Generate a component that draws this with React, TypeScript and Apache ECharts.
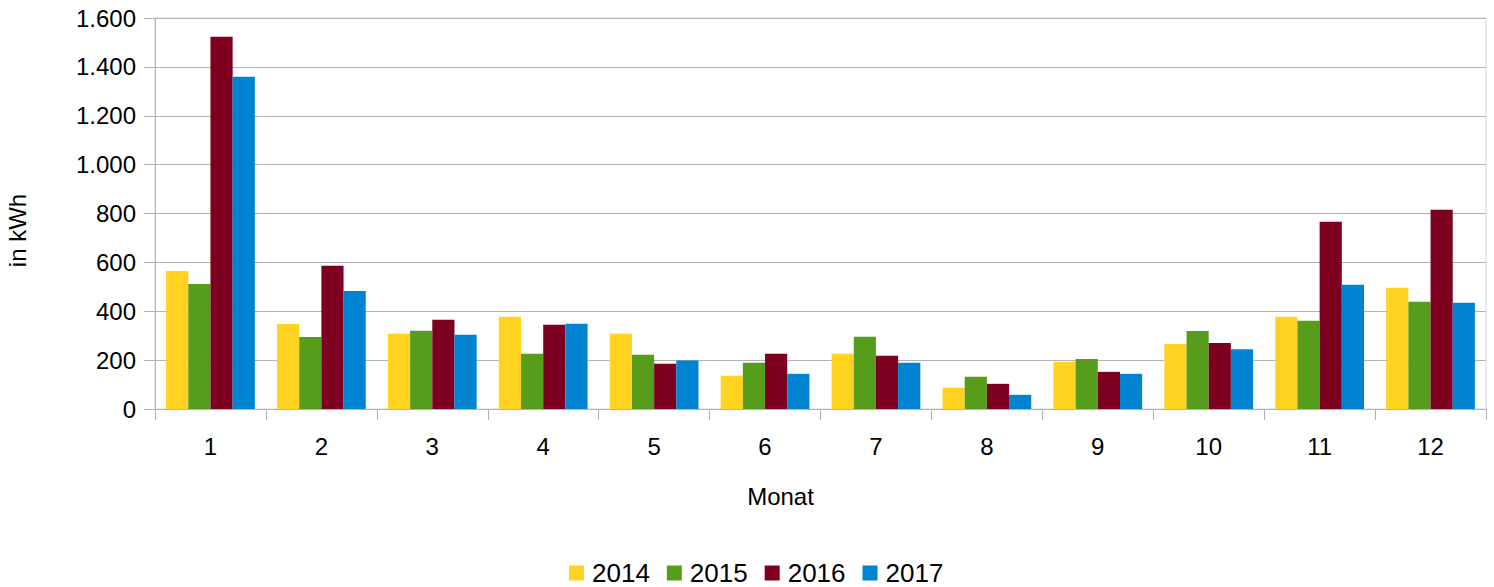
import React, { useEffect, useRef } from "react";
import * as echarts from "echarts";

const months = ["1", "2", "3", "4", "5", "6", "7", "8", "9", "10", "11", "12"];
const years = ["2014", "2015", "2016", "2017"];
const v2014 = [565, 348, 308, 378, 308, 136, 226, 87, 193, 266, 378, 496];
const v2015 = [512, 295, 320, 226, 222, 189, 296, 132, 205, 319, 361, 439];
const v2016 = [1523, 586, 365, 345, 185, 226, 218, 103, 152, 270, 766, 815];
const v2017 = [1360, 483, 304, 349, 198, 144, 189, 58, 144, 245, 508, 435];
const seriesValues = [v2014, v2015, v2016, v2017];
const colors = ["#FFD320", "#579D1C", "#7E0021", "#0084D1"];

const fmt = (v: number) => String(v).replace(/\B(?=(\d{3})+(?!\d))/g, ".");

export default function App() {
  const ref = useRef<HTMLDivElement>(null);
  useEffect(() => {
    if (!ref.current) return;
    const chart = echarts.init(ref.current, undefined, { renderer: "svg" });
    const font = "'Liberation Sans', Arial, sans-serif";
    chart.setOption({
      animation: false,
      textStyle: { fontFamily: font },
      color: colors,
      grid: {
        left: 155,
        right: 8,
        top: 18,
        bottom: 178,
        containLabel: false,
        outerBoundsMode: "none",
        show: true,
        borderColor: "#d4d4d4",
        borderWidth: 1,
      },
      legend: {
        bottom: -4,
        left: 564,
        itemWidth: 15,
        itemHeight: 15,
        itemGap: 17,
        icon: "rect",
        textStyle: { fontSize: 26, color: "#000", fontFamily: font, padding: [0, 0, 0, 3] },
        data: years,
      },
      xAxis: {
        type: "category",
        data: months,
        name: "Monat",
        nameLocation: "middle",
        nameGap: 75,
        nameTextStyle: { fontSize: 24, color: "#000", fontFamily: font, padding: [0, 80, 0, 0] },
        axisLine: { lineStyle: { color: "#b3b3b3", width: 1 } },
        axisTick: { show: true, length: 11, lineStyle: { color: "#b3b3b3" } },
        axisLabel: { fontSize: 24, color: "#000", margin: 25, fontFamily: font },
      },
      yAxis: {
        type: "value",
        min: 0,
        max: 1600,
        interval: 200,
        name: "in kWh",
        nameLocation: "middle",
        nameGap: 126,
        nameTextStyle: { fontSize: 24, color: "#000", fontFamily: font, padding: [0, 34, 0, 0] },
        axisLine: { show: true, lineStyle: { color: "#b3b3b3", width: 1 } },
        axisTick: { show: true, length: 11, lineStyle: { color: "#b3b3b3" } },
        splitLine: { lineStyle: { color: "#b3b3b3", width: 1 } },
        axisLabel: {
          fontSize: 24,
          color: "#000",
          margin: 19,
          fontFamily: font,
          formatter: (v: number) => fmt(v),
        },
      },
      series: years.map((y, i) => ({
        name: y,
        type: "bar",
        data: seriesValues[i],
        barGap: "0%",
        barCategoryGap: "20%",
        itemStyle: { color: colors[i] },
      })),
    });
    return () => chart.dispose();
  }, []);
  return (
    <div
      ref={ref}
      style={{ position: "absolute", left: 0, top: 0, width: 1494, height: 587 }}
    />
  );
}
